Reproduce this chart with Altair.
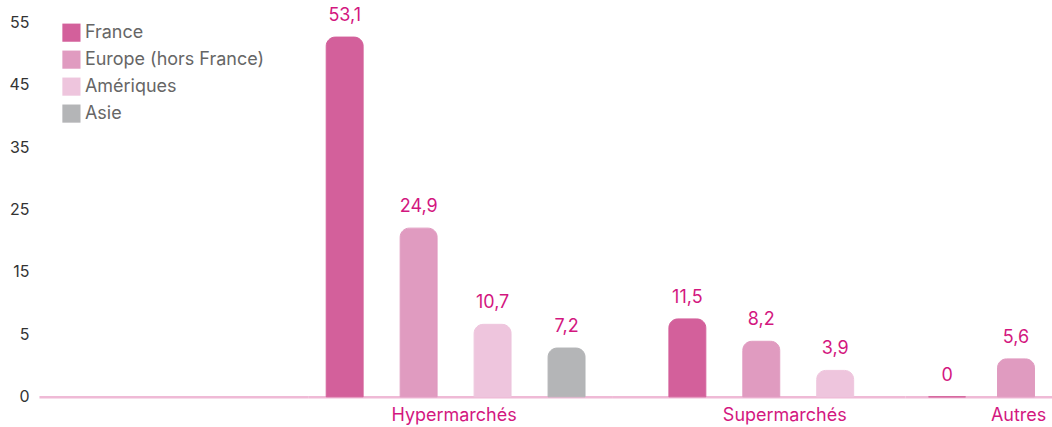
import altair as alt
import pandas as pd

# ---- data ----
groups = ["Hypermarchés", "Hypermarchés", "Hypermarchés", "Hypermarchés",
          "Supermarchés", "Supermarchés", "Supermarchés",
          "Autres", "Autres"]
series = ["France", "Europe (hors France)", "Amériques", "Asie",
          "France", "Europe (hors France)", "Amériques",
          "France", "Europe (hors France)"]
values = [53.1, 24.9, 10.7, 7.2, 11.5, 8.2, 3.9, 0, 5.6]

series_order = ["France", "Europe (hors France)", "Amériques", "Asie"]
series_colors = ["#d3609b", "#e09bc0", "#eec5dd", "#b4b5b7"]
group_order = ["Hypermarchés", "Supermarchés", "Autres"]
ytick_labels = ["0", "5", "15", "25", "35", "45", "55"]
y_max = 55.3

FONT = "Inter"
MAGENTA = "#d3177f"
BASELINE = "#efbad6"

df = pd.DataFrame({"group": groups, "series": series, "value": values})

n_t = len(ytick_labels) - 1
tick_values = [i * y_max / n_t for i in range(n_t + 1)]
label_expr = ("[" + ",".join(f"'{t}'" for t in ytick_labels) + "]"
              + f"[round(datum.value * {n_t} / {y_max})]")

y_scale = alt.Scale(domain=[0, y_max], nice=False)
c_scale = alt.Scale(domain=series_order, range=series_colors)

color = alt.Color(
    "series:N",
    scale=c_scale,
    legend=alt.Legend(
        title=None, orient="none", legendX=23, legendY=1,
        symbolType="square", symbolSize=330, symbolStrokeWidth=0,
        labelFont=FONT, labelFontSize=18, labelColor="#666666",
        labelLimit=400, rowPadding=8, labelOffset=4,
    ),
)

# layout of each panel: (width, paddingOuter, align, title x)
layout = {
    "Hypermarchés": (305, 0.06, 0.0, 146),
    "Supermarchés": (293, 0.48, 0.535, 172),
    "Autres": (147, 0.065, 0.83, 113),
}

# empty leading panel that carries the y axis
spacer = alt.Chart(df).mark_point(opacity=0).encode(
    x=alt.X("series:N", axis=alt.Axis(
        title=None, labels=False, ticks=False,
        domainColor=BASELINE, domainWidth=2.5)),
    y=alt.Y("value:Q", scale=y_scale, axis=alt.Axis(
        title=None, values=tick_values, labelExpr=label_expr,
        domain=False, ticks=False, grid=False,
        labelFont=FONT, labelFontSize=16, labelColor="#333333",
        labelPadding=10)),
).properties(width=269, height=375)


def panel(group):
    width, po, align, title_x = layout[group]
    sub = [s for g, s in zip(groups, series) if g == group]
    base = alt.Chart(df).transform_filter(
        alt.datum.group == group
    ).transform_calculate(
        label="datum.value == 0 ? '0' : replace(format(datum.value, '.1f'), '.', ',')"
    )
    x = alt.X(
        "series:N", sort=sub,
        scale=alt.Scale(domain=sub, paddingInner=0, paddingOuter=po, align=align),
        axis=alt.Axis(
            title=group, labels=False, ticks=False,
            domainColor=BASELINE, domainWidth=2.5,
            titleX=title_x, titleAlign="center", titleBaseline="top",
            titleFont=FONT, titleFontSize=18, titleFontWeight="normal",
            titleColor=MAGENTA, titlePadding=10,
        ),
    )
    y = alt.Y("value:Q", scale=y_scale, axis=None)
    bars = base.mark_bar(
        size=37, cornerRadiusTopLeft=9, cornerRadiusTopRight=9, strokeWidth=1
    ).encode(x=x, y=y, color=color,
             stroke=alt.Stroke("series:N", scale=c_scale, legend=None))
    text = base.mark_text(
        dy=-12, baseline="bottom", font=FONT, fontSize=18, color=MAGENTA
    ).encode(x=x, y=y, text="label:N")
    return alt.layer(bars, text).properties(width=width, height=375)


chart = alt.hconcat(
    spacer, *[panel(g) for g in group_order], spacing=0
).resolve_scale(
    x="independent", y="shared", color="shared", stroke="shared"
).configure_view(stroke=None).properties(
    padding={"left": 8, "top": 6, "right": 0, "bottom": 0},
    background="white",
)

chart.save("out.html", embed_options={"renderer": "svg", "actions": False})
